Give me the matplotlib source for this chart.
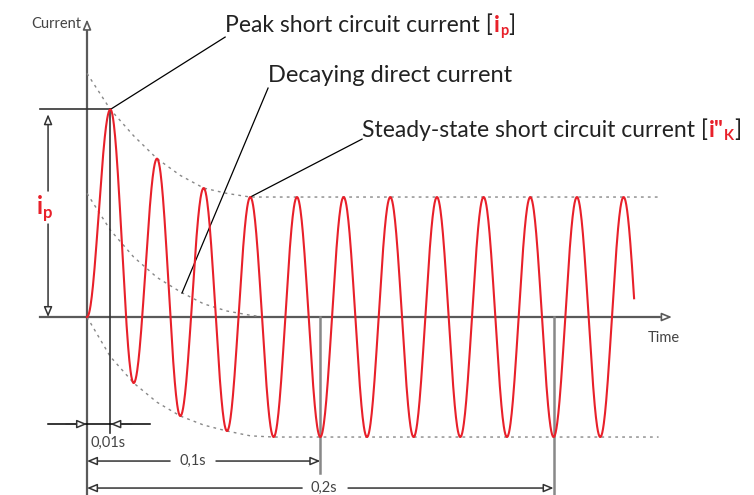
import matplotlib
matplotlib.use("Agg")
import matplotlib.pyplot as plt
import numpy as np
from matplotlib.transforms import IdentityTransform

# half-cycle extremes of the short-circuit current (units: steady-state peak = 1)
ext_t = [0.00, 0.01, 0.02, 0.03, 0.04, 0.05, 0.06, 0.07, 0.08, 0.09, 0.10, 0.11,
         0.12, 0.13, 0.14, 0.15, 0.16, 0.17, 0.18, 0.19, 0.20, 0.21, 0.22, 0.23, 0.24]
ext_v = [0.0, 1.73, -0.55, 1.32, -0.825, 1.075, -0.95, 1.0, -1.0, 1.0, -1.0, 1.0,
         -1.0, 1.0, -1.0, 1.0, -1.0, 1.0, -1.0, 1.0, -1.0, 1.0, -1.0, 1.0, -1.0]
t_end = 0.2345

# dotted envelopes
upper_t = [0.0, 0.01, 0.02, 0.03, 0.04, 0.05, 0.06, 0.07, 0.245]
upper_v = [2.03, 1.73, 1.51, 1.32, 1.18, 1.075, 1.03, 1.0, 1.0]
lower_t = [0.0, 0.01, 0.02, 0.03, 0.04, 0.05, 0.06, 0.07, 0.08, 0.245]
lower_v = [0.0, -0.33, -0.55, -0.71, -0.825, -0.9, -0.95, -0.99, -1.0, -1.0]
dc_t = [0.0, 0.01, 0.02, 0.03, 0.04, 0.05, 0.06, 0.07, 0.076]
dc_v = [1.03, 0.725, 0.5, 0.33, 0.21, 0.11, 0.05, 0.015, 0.0]

RED = "#e8202a"
AX = "#5a5a5a"
DARK = "#333333"
TXT = "#222222"
FONT = "Lato"
BIG = 16.5
SUB = 10.5

fig = plt.figure(figsize=(7.54, 4.95), dpi=100)
ax = fig.add_axes([0, 0, 1, 1])
ax.set_xlim(-0.0373, 0.2859)
ax.set_ylim(-1.483, 2.642)
ax.axis("off")


def arrow(tip, tail, color=DARK, lw=1.1):
    ax.annotate("", xy=tip, xytext=tail,
                arrowprops=dict(arrowstyle="-|>,head_length=0.6,head_width=0.25",
                                fc="white", ec=color, lw=lw, shrinkA=0, shrinkB=0))


def rich_text(x, y, parts):
    r = fig.canvas.get_renderer()
    px, py = ax.transData.transform((x, y))
    for s, color, weight, size, dy in parts:
        t = ax.text(px, py + dy, s, color=color, fontweight=weight, fontsize=size,
                    family=FONT, transform=IdentityTransform(), va="baseline", ha="left")
        px = t.get_window_extent(r).x1 + 0.5


# axes
ax.plot([0, 0], [-1.483, 2.40], color=AX, lw=1.6)
arrow((0, 2.48), (0, 2.38), color=AX, lw=1.2)
ax.plot([-0.020, 0.245], [0, 0], color=AX, lw=1.6)
arrow((0.2507, 0), (0.240, 0), color=AX, lw=1.2)
ax.text(-0.0025, 2.44, "Current", ha="right", va="center", fontsize=10.5, color="#444444", family=FONT)
ax.text(0.2473, -0.175, "Time", ha="center", va="center", fontsize=10.5, color="#444444", family=FONT)

# envelopes
ax.plot(upper_t, upper_v, color="#888888", lw=1, ls=(0, (2, 3)))
ax.plot(lower_t, lower_v, color="#888888", lw=1, ls=(0, (2, 3)))
ax.plot(dc_t, dc_v, color="#888888", lw=1, ls=(0, (2, 3)))

# waveform built from the half-cycle extremes
tt, ii = [], []
for k in range(len(ext_t) - 1):
    t0, t1 = ext_t[k], ext_t[k + 1]
    if t0 >= t_end:
        break
    s = np.linspace(t0, min(t1, t_end), 60)
    mid = (ext_v[k] + ext_v[k + 1]) / 2
    half = (ext_v[k] - ext_v[k + 1]) / 2
    tt.extend(s)
    ii.extend(mid + half * np.cos(np.pi * (s - t0) / (t1 - t0)))
ax.plot(tt, ii, color=RED, lw=1.5, zorder=3)

ip = ext_v[1]
# peak marker lines
ax.plot([-0.020, 0.01], [ip, ip], color=DARK, lw=1.2)
ax.plot([0.01, 0.01], [ip, -0.967], color=DARK, lw=1.2)

# i_p dimension
xd = -0.0167
arrow((xd, ip - 0.04), (xd, 1.05))
arrow((xd, 0.0), (xd, 0.775))
rich_text(-0.0215, 0.86, [("i", RED, "bold", 17, 0), ("p", RED, "bold", 12, -4)])

# 0,01s
yd = -0.892
ax.plot([-0.0167, 0.027], [yd, yd], color="black", lw=1.1)
arrow((0.0, yd), (-0.009, yd))
arrow((0.01, yd), (0.019, yd))
ax.text(0.009, -1.05, "0,01s", ha="center", va="center", fontsize=10.5, color="#444444", family=FONT)

# 0,1s
yd = -1.2
arrow((0.0, yd), (0.0356, yd))
arrow((0.1, yd), (0.0553, yd))
ax.text(0.0454, yd, "0,1s", ha="center", va="center", fontsize=10.5, color="#444444", family=FONT)
ax.plot([0.1, 0.1], [0, -1.30], color="#888888", lw=1.8)

# 0,2s
yd = -1.425
arrow((0.0, yd), (0.0922, yd))
arrow((0.2, yd), (0.1119, yd))
ax.text(0.1016, yd, "0,2s", ha="center", va="center", fontsize=10.5, color="#444444", family=FONT)
ax.plot([0.2, 0.2], [0, -1.483], color="#888888", lw=1.8)

# leaders and labels
ax.plot([0.01, 0.0592], [ip, 2.333], color="black", lw=0.9)
rich_text(0.0592, 2.375, [("Peak short circuit current [", TXT, "normal", BIG, 0),
                          ("i", RED, "bold", BIG, 0), ("p", RED, "bold", SUB, -3),
                          ("]", TXT, "normal", BIG, 0)])
ax.plot([0.0407, 0.0776], [0.2, 1.908], color="black", lw=0.9)
rich_text(0.0776, 1.958, [("Decaying direct current", TXT, "normal", 17, 0)])
ax.plot([0.07, 0.1179], [1.0, 1.483], color="black", lw=0.9)
rich_text(0.1179, 1.50, [("Steady-state short circuit current [", TXT, "normal", BIG, 0),
                         ("i\"", RED, "bold", BIG, 0), ("K", RED, "bold", SUB, -3),
                         ("]", TXT, "normal", BIG, 0)])

fig.savefig("out.png", dpi=100)
